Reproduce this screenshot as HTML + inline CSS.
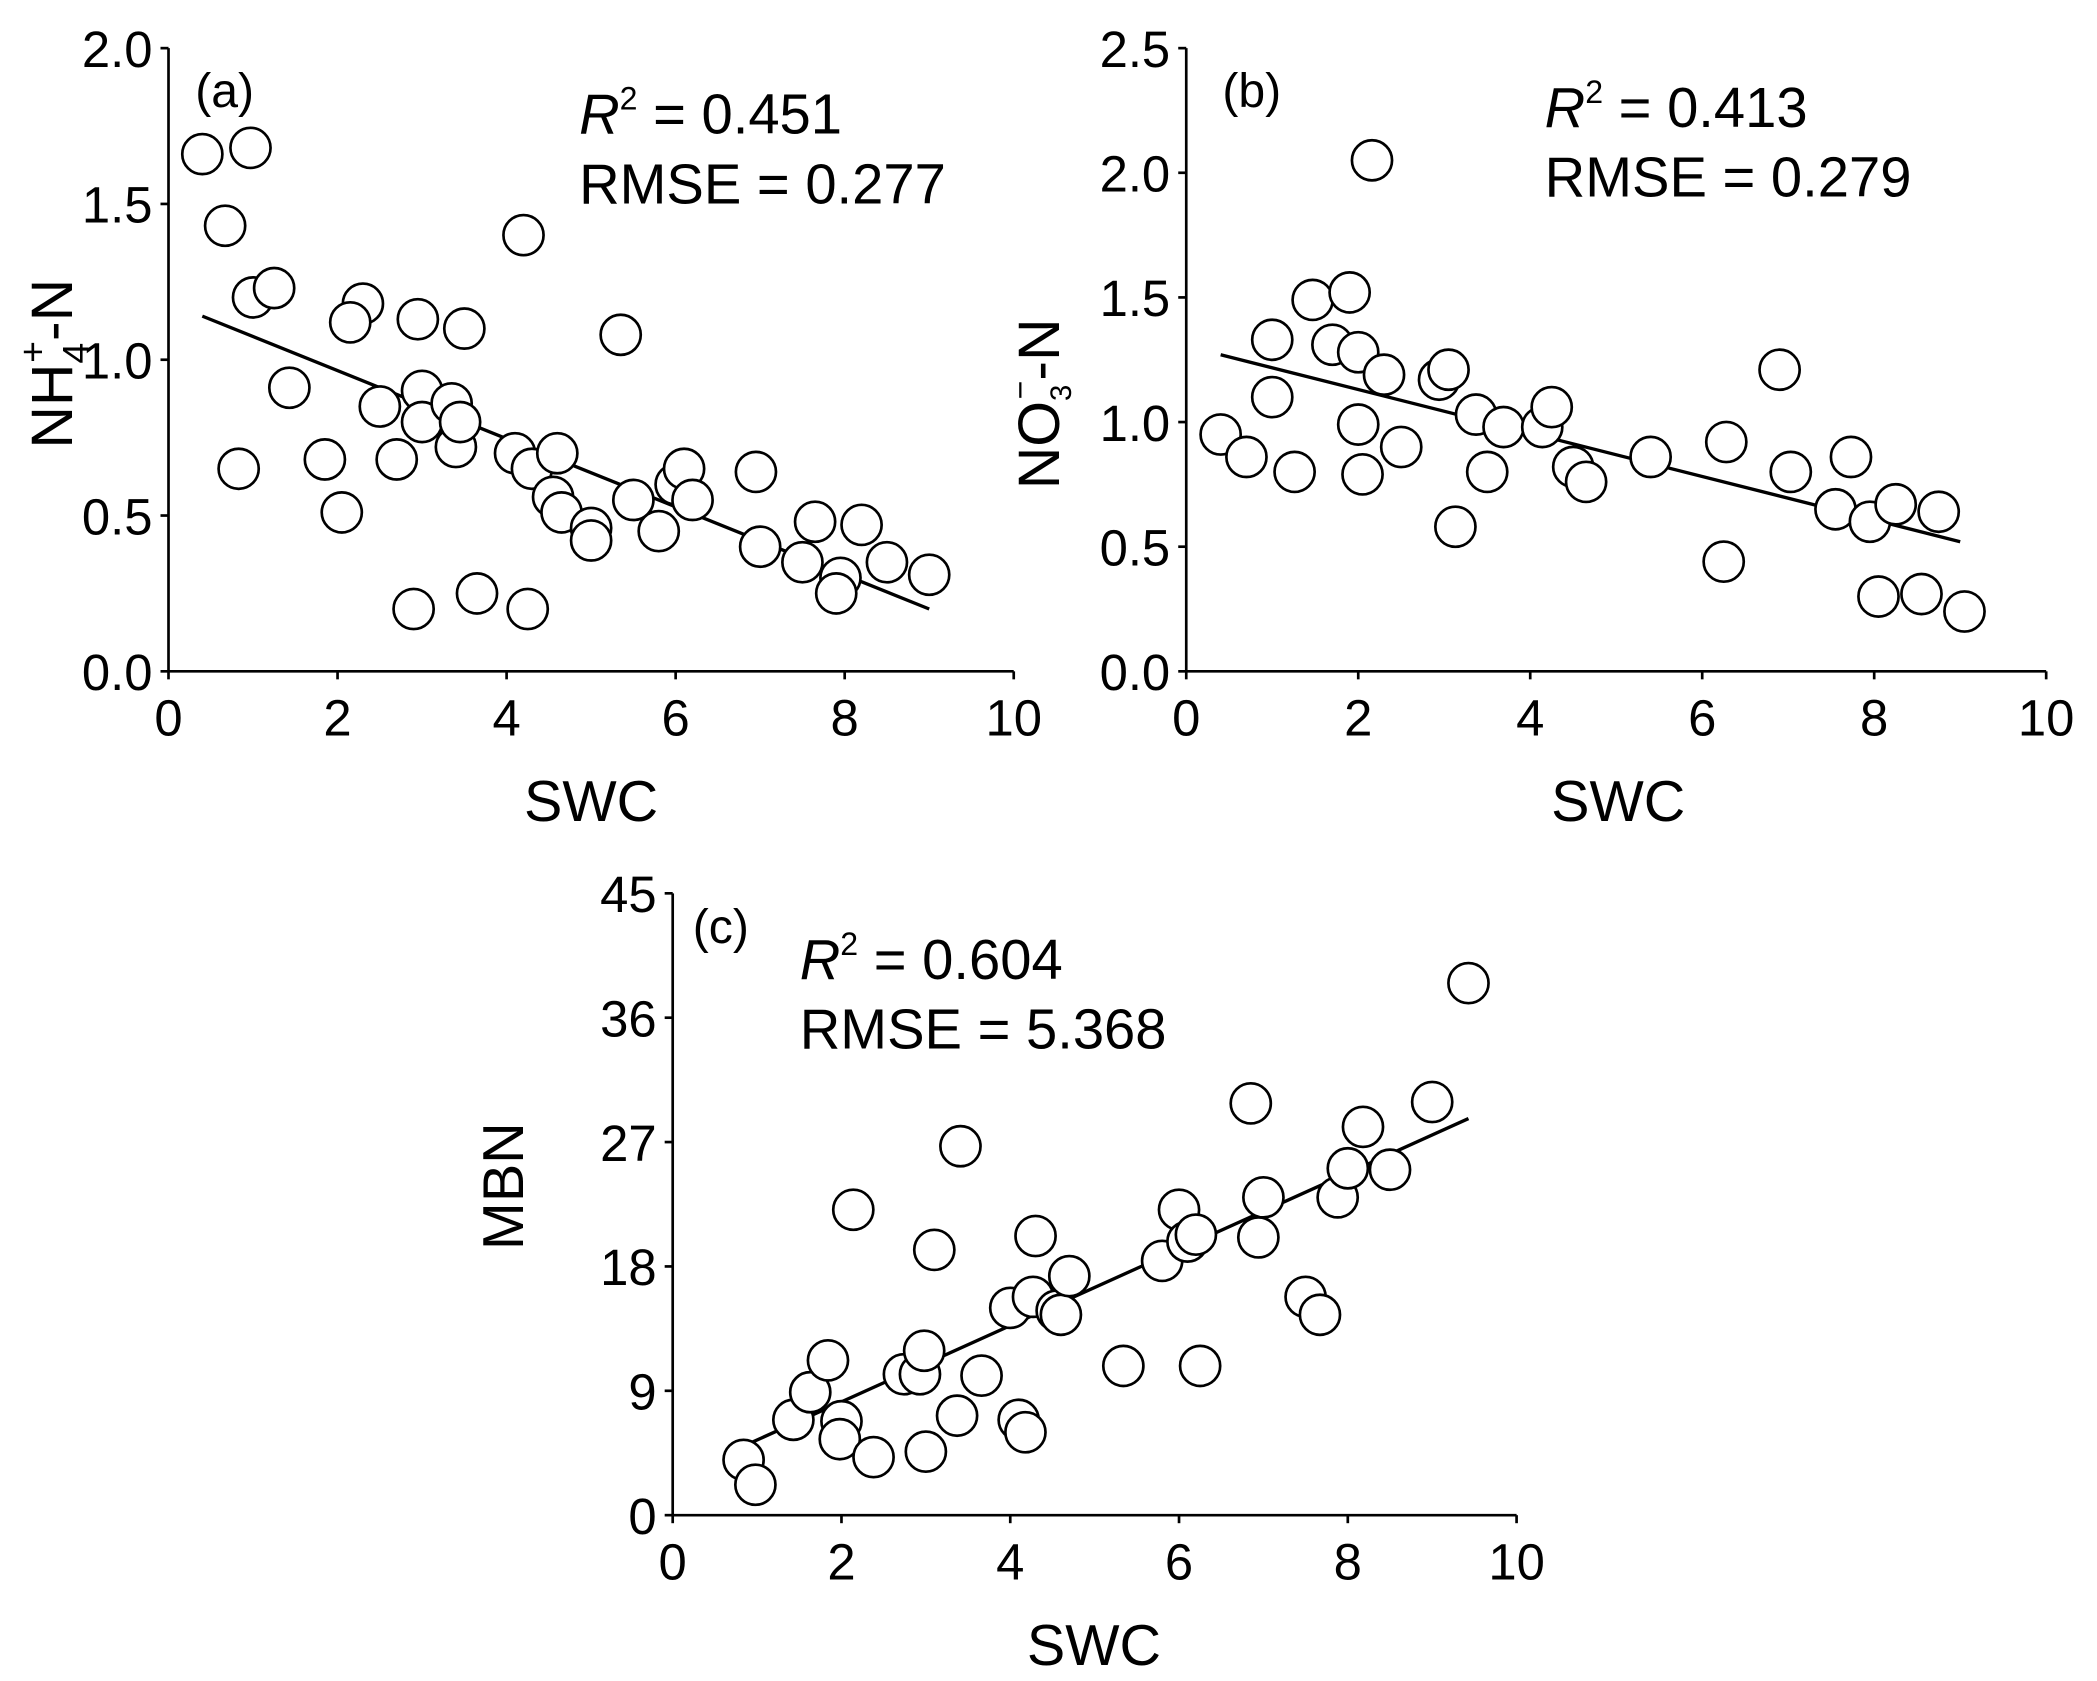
<!DOCTYPE html>
<html><head><meta charset="utf-8"><style>
html,body{margin:0;padding:0;background:#fff}
svg{display:block}
text{font-family:"Liberation Sans",Arial,sans-serif;fill:#000}
</style></head><body>
<svg id="chart" width="2097" height="1681" viewBox="0 0 1568 1257" preserveAspectRatio="none" xmlns="http://www.w3.org/2000/svg"></svg>
<script>
const xTicks=[0,2,4,6,8,10];
const yTicksA=[0,0.5,1,1.5,2];
const yTicksB=[0,0.5,1,1.5,2,2.5];
const yTicksC=[0,9,18,27,36,45];
const ax=[0.4,0.97,0.67,1.0,1.25,0.83,1.43,1.85,2.05,2.3,2.15,2.5,2.7,2.95,3.0,3.0,2.9,3.35,3.4,3.45,3.5,3.65,4.1,4.2,4.25,4.3,4.6,4.55,4.65,5.0,5.0,5.35,5.5,5.8,6.0,6.1,6.2,6.95,7.0,7.5,7.65,7.95,7.9,8.2,8.5,9.0];
const ay=[1.66,1.68,1.43,1.2,1.23,0.65,0.91,0.68,0.51,1.18,1.12,0.85,0.68,1.13,0.9,0.8,0.2,0.86,0.72,0.8,1.1,0.25,0.7,1.4,0.2,0.65,0.7,0.56,0.51,0.46,0.42,1.08,0.55,0.45,0.6,0.65,0.55,0.64,0.4,0.35,0.48,0.3,0.25,0.47,0.35,0.31];
const aFit=[[0.4,1.14],[9.0,0.2]];
const bx=[0.4,0.7,1.0,1.0,1.26,1.47,1.7,1.9,2.0,2.0,2.05,2.16,2.3,2.5,2.94,3.05,3.13,3.37,3.5,3.69,4.14,4.25,4.5,4.65,5.4,6.25,6.28,6.9,7.03,7.55,7.73,7.95,8.05,8.25,8.55,8.75,9.05];
const by=[0.95,0.86,1.33,1.1,0.8,1.49,1.31,1.52,1.28,0.99,0.79,2.05,1.19,0.9,1.17,1.21,0.58,1.03,0.8,0.98,0.98,1.06,0.82,0.76,0.86,0.44,0.92,1.21,0.8,0.65,0.86,0.6,0.3,0.67,0.31,0.64,0.24];
const bFit=[[0.4,1.27],[9.0,0.52]];
const cx=[0.84,0.98,1.43,1.63,1.84,2.0,1.98,2.14,2.38,2.74,2.93,2.98,3.0,3.1,3.37,3.41,3.66,4.0,4.1,4.18,4.27,4.3,4.55,4.6,4.7,5.34,5.8,6.0,6.1,6.2,6.25,6.85,6.94,7.0,7.5,7.67,7.88,8.0,8.18,8.5,9.0,9.43];
const cy=[4.0,2.2,6.9,8.9,11.2,6.8,5.5,22.1,4.2,10.2,10.2,11.9,4.6,19.2,7.2,26.7,10.1,15.0,6.9,6.0,15.8,20.2,14.8,14.5,17.3,10.8,18.4,22.1,19.8,20.3,10.8,29.8,20.1,23.0,15.8,14.5,23.0,25.1,28.1,25.0,29.9,38.5];
const cFit=[[0.84,5.0],[9.43,28.7]];

const NS="http://www.w3.org/2000/svg";
const svg=document.getElementById('chart');
function el(t,a,p){const e=document.createElementNS(NS,t);for(const k in a)e.setAttribute(k,a[k]);(p||svg).appendChild(e);return e;}

function panel(id,x0,x1,y0,y1,ymax,yTicks,fmt,xs,ys,fit){
  const g=el('g',{});
  
  
  const X=v=>x0+(x1-x0)*v/10, Y=v=>y0-(y0-y1)*v/ymax;
  const ya=el('line',{x1:x0,y1:y0,x2:x0,y2:y1,stroke:'#000','stroke-width':2},g);
  
  
  const xa=el('line',{x1:x0,y1:y0,x2:x1,y2:y0,stroke:'#000','stroke-width':2},g);
  
  
  yTicks.forEach(t=>{
    el('line',{x1:x0-6,y1:Y(t),x2:x0,y2:Y(t),stroke:'#000','stroke-width':2},g);
    const tx=el('text',{x:x0-12,y:Y(t)+14,'font-size':38,'text-anchor':'end'},g);
    tx.textContent=fmt(t);
    
    
  });
  xTicks.forEach(t=>{
    el('line',{x1:X(t),y1:y0,x2:X(t),y2:y0+6,stroke:'#000','stroke-width':2},g);
    const tx=el('text',{x:X(t),y:y0+48,'font-size':38,'text-anchor':'middle'},g);
    tx.textContent=t;
    
    
  });
  const fl=el('line',{x1:X(fit[0][0]),y1:Y(fit[0][1]),x2:X(fit[1][0]),y2:Y(fit[1][1]),stroke:'#000','stroke-width':2.5},g);
  
  
  xs.forEach((v,i)=>{
    const c=el('circle',{cx:X(v),cy:Y(ys[i]),r:15,fill:'#fff',stroke:'#000','stroke-width':2},g);
    
    
  });
}
panel('a',126,758,502,36,2,yTicksA,t=>t.toFixed(1),ax,ay,aFit);
panel('b',887,1530,502,36,2.5,yTicksB,t=>t.toFixed(1),bx,by,bFit);
panel('c',503,1134,1133,668,45,yTicksC,t=>String(t),cx,cy,cFit);
</script>
<script>
const s=document.getElementById('chart');
s.insertAdjacentHTML('beforeend',`
<text x="146" y="80" font-size="36">(a)</text>
<text x="433" y="100" font-size="42"><tspan font-style="italic">R</tspan><tspan font-size="24" dy="-18">2</tspan><tspan dy="18"> = 0.451</tspan></text>
<text x="433" y="152" font-size="42">RMSE = 0.277</text>
<text x="914" y="80" font-size="36">(b)</text>
<text x="1155" y="95" font-size="42"><tspan font-style="italic">R</tspan><tspan font-size="24" dy="-18">2</tspan><tspan dy="18"> = 0.413</tspan></text>
<text x="1155" y="147" font-size="42">RMSE = 0.279</text>
<text x="518" y="705" font-size="36">(c)</text>
<text x="598" y="732" font-size="42"><tspan font-style="italic">R</tspan><tspan font-size="24" dy="-18">2</tspan><tspan dy="18"> = 0.604</tspan></text>
<text x="598" y="784" font-size="42">RMSE = 5.368</text>
<text x="442" y="614" font-size="43" text-anchor="middle">SWC</text>
<text x="1210" y="614" font-size="43" text-anchor="middle">SWC</text>
<text x="818" y="1245" font-size="43" text-anchor="middle">SWC</text>
<text transform="translate(54,272) rotate(-90)" font-size="44" text-anchor="middle">NH<tspan font-size="28" dy="12">4</tspan><tspan font-size="28" dy="-32" dx="-15">+</tspan><tspan dy="20">-N</tspan></text>
<text transform="translate(792,302) rotate(-90)" font-size="44" text-anchor="middle">NO<tspan font-size="22" dy="9">3</tspan><tspan font-size="24" dy="-30" dx="-11">−</tspan><tspan dy="21">-N</tspan></text>
<text transform="translate(391,887) rotate(-90)" font-size="43" text-anchor="middle">MBN</text>
`);
</script>
</body></html>
